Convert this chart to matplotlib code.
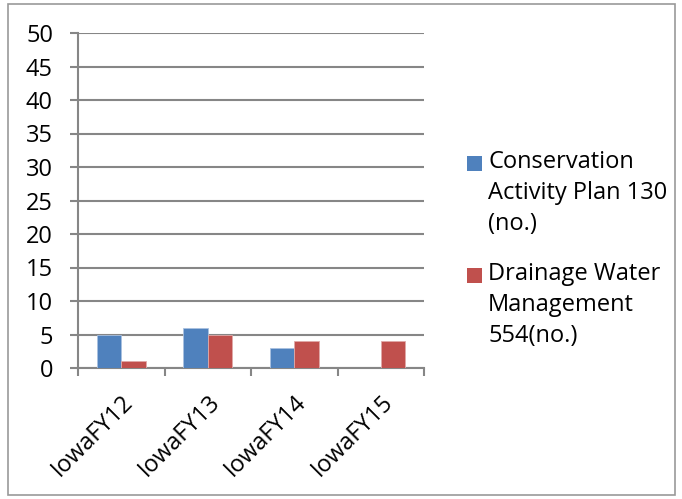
import numpy as np
import matplotlib
matplotlib.use('Agg')
from matplotlib import pyplot as plt
from matplotlib.patches import Rectangle

categories = ['IowaFY12', 'IowaFY13', 'IowaFY14', 'IowaFY15']
cap_130 = [5, 6, 3, 0]
dwm_554 = [1, 5, 4, 4]
series_names = ['Conservation\nActivity Plan 130\n(no.)',
                'Drainage Water\nManagement\n554(no.)']
colors = ['#4F81BD', '#C0504D']

plt.rcParams['font.family'] = ['Open Sans', 'DejaVu Sans']
grid_col = '#868686'

fig = plt.figure(figsize=(6.82, 4.99), dpi=100)
ax = fig.add_axes([78 / 682, 1 - 368 / 499, 346 / 682, 335 / 499])

x = np.arange(len(categories))
w = 0.283
ax.bar(x - w / 2, cap_130, w, color=colors[0], edgecolor='#a9c1e0', linewidth=0.6, zorder=3)
ax.bar(x + w / 2, dwm_554, w, color=colors[1], edgecolor='#e0a9a8', linewidth=0.6, zorder=3)

ax.set_xlim(-0.5, len(categories) - 0.5)
ax.set_ylim(0, 50)
ax.set_yticks(range(0, 51, 5))
ax.yaxis.grid(True, color=grid_col, linewidth=1.5, zorder=1)
ax.set_axisbelow(True)

for s in ['top', 'right']:
    ax.spines[s].set_visible(False)
for s in ['left', 'bottom']:
    ax.spines[s].set_color(grid_col)
    ax.spines[s].set_linewidth(1.5)

ax.tick_params(axis='y', length=6, width=1.5, color=grid_col, labelsize=17, pad=12)
ax.set_xticks(np.arange(-0.5, len(categories)), minor=False)
ax.set_xticklabels([])
ax.tick_params(axis='x', which='major', length=6, width=1.5, color=grid_col)
ax.set_xticks(x, minor=True)
ax.set_xticklabels(categories, minor=True, rotation=45, ha='right', rotation_mode='anchor', fontsize=17)
ax.tick_params(axis='x', which='minor', length=0, pad=16)

# legend drawn by hand, to match the wrapped layout
for i, (name, c) in enumerate(zip(series_names, colors)):
    top = 156 + i * 112
    fig.patches.append(Rectangle((467 / 682, 1 - (top + 15) / 499), 15 / 682, 15 / 499,
                                 transform=fig.transFigure, facecolor=c, edgecolor='none'))
    fig.text(488 / 682, 1 - (top - 6) / 499, name, fontsize=17, va='top', ha='left',
             linespacing=1.4)

fig.patches.append(Rectangle((8 / 682, 4 / 499), 667 / 682, 491 / 499, transform=fig.transFigure,
                             fill=False, edgecolor='#999999', linewidth=1.2))

fig.savefig('out.png', dpi=100)
